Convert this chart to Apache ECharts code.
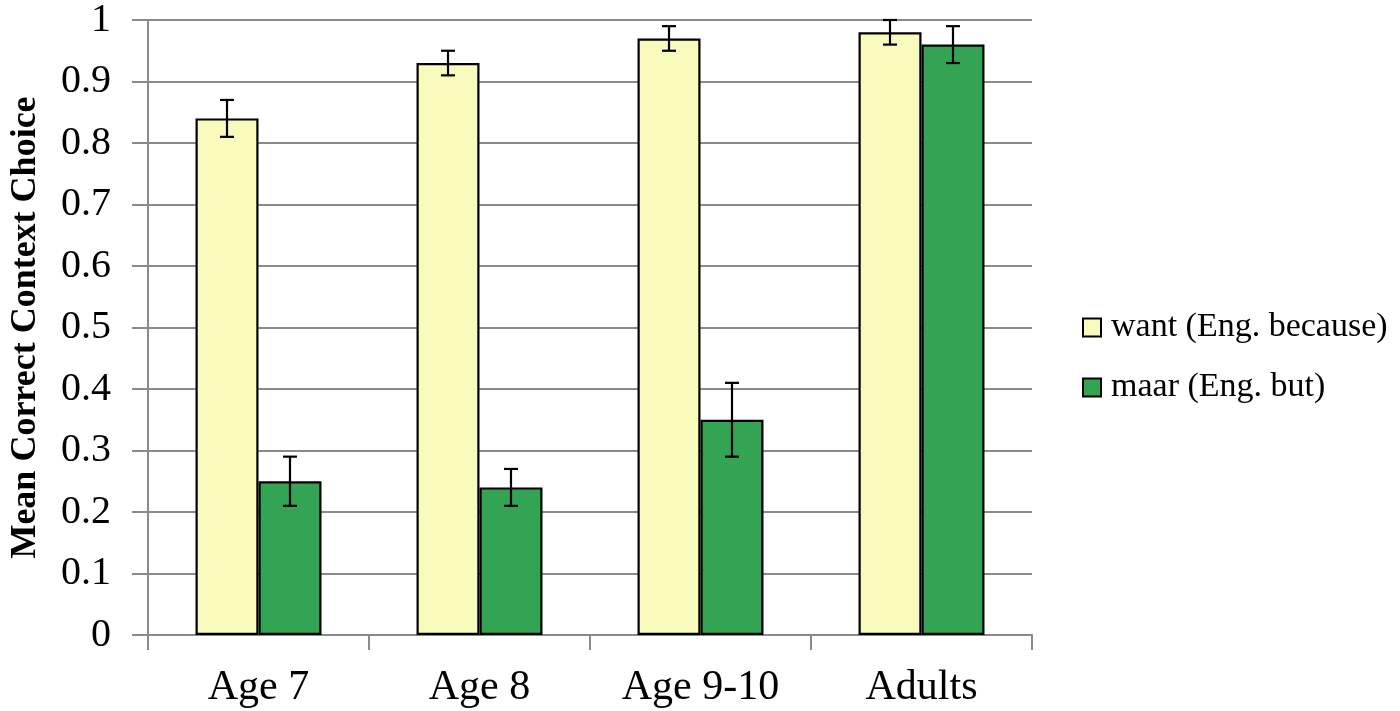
<!DOCTYPE html>
<html>
<head>
<meta charset="utf-8">
<script src="https://cdn.jsdelivr.net/npm/echarts@6/dist/echarts.min.js"></script>
<style>
html,body{margin:0;padding:0;background:#fff;}
#chart{width:1400px;height:711px;}
</style>
</head>
<body>
<div id="chart"></div>
<script>
var categories = ['Age 7', 'Age 8', 'Age 9-10', 'Adults'];
var seriesNames = ['want (Eng. because)', 'maar (Eng. but)'];
var wantValues = [0.84, 0.93, 0.97, 0.98];
var wantErr = [0.03, 0.02, 0.02, 0.02];
var maarValues = [0.25, 0.24, 0.35, 0.96];
var maarErr = [0.04, 0.03, 0.06, 0.03];
var yMin = 0, yMax = 1, yStep = 0.1;

var FONT = 'Liberation Serif';
var GRIDC = '#8a8a8a';
var CAT_GAP = 0.43;

function errData(vals, errs) {
  return vals.map(function (v, i) { return [i, v - errs[i], v + errs[i]]; });
}

function errRender(side) {
  return function (params, api) {
    var idx = api.value(0);
    var lo = api.coord([idx, api.value(1)]);
    var hi = api.coord([idx, api.value(2)]);
    var catW = api.size([1, 0])[0];
    var bw = catW * (1 - CAT_GAP) / 2;
    var x = lo[0] + side * bw / 2;
    var cap = 7;
    var st = { stroke: '#000', lineWidth: 2.2 };
    return {
      type: 'group',
      children: [
        { type: 'line', shape: { x1: x, y1: lo[1], x2: x, y2: hi[1] }, style: st },
        { type: 'line', shape: { x1: x - cap, y1: lo[1], x2: x + cap, y2: lo[1] }, style: st },
        { type: 'line', shape: { x1: x - cap, y1: hi[1], x2: x + cap, y2: hi[1] }, style: st }
      ]
    };
  };
}

var chart = echarts.init(document.getElementById('chart'));
chart.setOption({
  animation: false,
  backgroundColor: '#fff',
  grid: { left: 144, right: 368, top: 15, bottom: 76, containLabel: false },
  legend: {
    orient: 'vertical',
    left: 1077,
    top: 304,
    itemWidth: 18,
    itemHeight: 18,
    itemGap: 23,
    icon: 'rect',
    data: seriesNames,
    textStyle: { fontFamily: FONT, fontSize: 34, color: '#000', lineHeight: 37, padding: [0, 0, 0, 5] }
  },
  xAxis: {
    type: 'category',
    data: categories,
    axisLine: { lineStyle: { color: GRIDC, width: 2 } },
    axisTick: { show: true, length: 15, lineStyle: { color: GRIDC, width: 2 } },
    axisLabel: { fontFamily: FONT, fontSize: 42, color: '#000', margin: 32 }
  },
  yAxis: {
    type: 'value',
    min: yMin, max: yMax, interval: yStep,
    name: 'Mean Correct Context Choice',
    nameLocation: 'middle',
    nameGap: 104,
    nameTextStyle: { fontFamily: FONT, fontSize: 36, fontWeight: 'bold', color: '#000' },
    axisLine: { show: true, lineStyle: { color: GRIDC, width: 2 } },
    axisTick: { show: true, length: 16, lineStyle: { color: GRIDC, width: 2 } },
    axisLabel: { fontFamily: FONT, fontSize: 40, color: '#000', margin: 37 },
    splitLine: { lineStyle: { color: GRIDC, width: 2 } }
  },
  series: [
    {
      name: seriesNames[0], type: 'bar', data: wantValues,
      barGap: '0%', barCategoryGap: (CAT_GAP * 100) + '%',
      itemStyle: { color: '#F8FBBC', borderColor: '#000', borderWidth: 2.2 }
    },
    {
      name: seriesNames[1], type: 'bar', data: maarValues,
      barGap: '0%', barCategoryGap: (CAT_GAP * 100) + '%',
      itemStyle: { color: '#33A454', borderColor: '#000', borderWidth: 2.2 }
    },
    {
      type: 'custom', renderItem: errRender(-1), data: errData(wantValues, wantErr),
      encode: { x: 0, y: [1, 2] }, z: 10, silent: true
    },
    {
      type: 'custom', renderItem: errRender(1), data: errData(maarValues, maarErr),
      encode: { x: 0, y: [1, 2] }, z: 10, silent: true
    }
  ]
});
</script>
</body>
</html>
